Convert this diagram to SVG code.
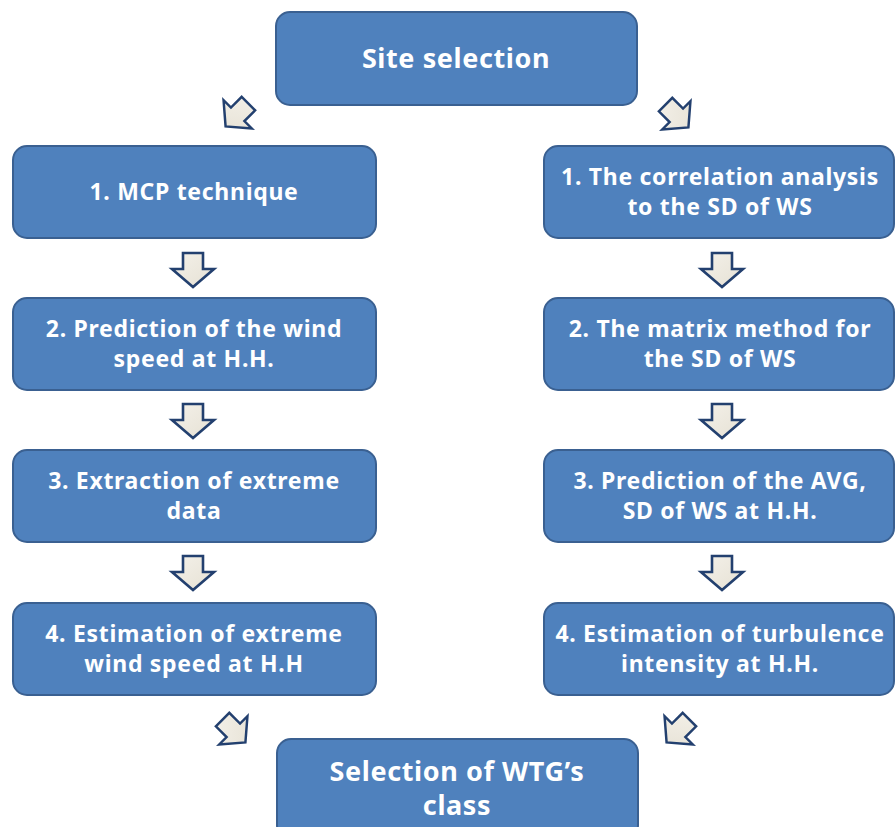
<svg xmlns="http://www.w3.org/2000/svg" width="896" height="827" viewBox="0 0 896 827">
<defs>
<linearGradient id="ag" x1="0" y1="0" x2="1" y2="1">
<stop offset="0" stop-color="#f4f1ea"/><stop offset="1" stop-color="#e6e1d4"/>
</linearGradient>
<path id="arr" d="M-10,-17 L10,-17 L10,-1 L21,-1 L0,17 L-21,-1 L-10,-1 Z"/>
</defs>
<style>
.box{fill:#4f81bd;stroke:#3a6091;stroke-width:2}
.t{fill:#ffffff;font-family:"Noto Sans","DejaVu Sans",sans-serif;font-weight:bold;font-size:23px;letter-spacing:0.7px;text-anchor:middle}
.tl{font-size:27px;letter-spacing:0.6px}
.a{fill:url(#ag);stroke:#23406f;stroke-width:2.6;stroke-linejoin:miter}
</style>
<rect width="896" height="827" fill="#ffffff"/>
<g id="site">
<rect class="box" x="276" y="12" width="361" height="93" rx="14"/>
<text class="t tl" x="456" y="68">Site selection</text>
</g>
<g id="l1"><rect class="box" x="13" y="146" width="363" height="92" rx="14"/>
<text class="t" x="194" y="200">1. MCP technique</text></g>
<g id="l2"><rect class="box" x="13" y="298" width="363" height="92" rx="14"/>
<text class="t" x="194" y="337">2. Prediction of the wind</text><text class="t" x="194" y="367">speed at H.H.</text></g>
<g id="l3"><rect class="box" x="13" y="450" width="363" height="92" rx="14"/>
<text class="t" x="194" y="489">3. Extraction of extreme</text><text class="t" x="194" y="519">data</text></g>
<g id="l4"><rect class="box" x="13" y="603" width="363" height="92" rx="14"/>
<text class="t" x="194" y="642">4. Estimation of extreme</text><text class="t" x="194" y="672">wind speed at H.H</text></g>
<g id="r1"><rect class="box" x="544" y="146" width="350" height="92" rx="14"/>
<text class="t" x="720" y="185">1. The correlation analysis</text><text class="t" x="720" y="215">to the SD of WS</text></g>
<g id="r2"><rect class="box" x="544" y="298" width="350" height="92" rx="14"/>
<text class="t" x="720" y="337">2. The matrix method for</text><text class="t" x="720" y="367">the SD of WS</text></g>
<g id="r3"><rect class="box" x="544" y="450" width="350" height="92" rx="14"/>
<text class="t" x="720" y="489">3. Prediction of the AVG,</text><text class="t" x="720" y="519">SD of WS at H.H.</text></g>
<g id="r4"><rect class="box" x="544" y="603" width="350" height="92" rx="14"/>
<text class="t" x="720" y="642">4. Estimation of turbulence</text><text class="t" x="720" y="672">intensity at H.H.</text></g>
<g id="wtg"><rect class="box" x="277" y="739" width="361" height="100" rx="14"/>
<text class="t tl" x="457" y="781">Selection of WTG’s</text><text class="t tl" x="457" y="815">class</text></g>
<g id="connectors">
<use href="#arr" class="a" transform="translate(237,115) rotate(45) scale(0.95)"/>
<use href="#arr" class="a" transform="translate(677,116) rotate(-45) scale(0.95)"/>
<use href="#arr" class="a" transform="translate(193,270)"/>
<use href="#arr" class="a" transform="translate(193,421)"/>
<use href="#arr" class="a" transform="translate(193,573)"/>
<use href="#arr" class="a" transform="translate(722,270)"/>
<use href="#arr" class="a" transform="translate(722,421)"/>
<use href="#arr" class="a" transform="translate(722,573)"/>
<use href="#arr" class="a" transform="translate(234,731) rotate(-45) scale(0.95)"/>
<use href="#arr" class="a" transform="translate(678,731) rotate(45) scale(0.95)"/>
</g>
</svg>
